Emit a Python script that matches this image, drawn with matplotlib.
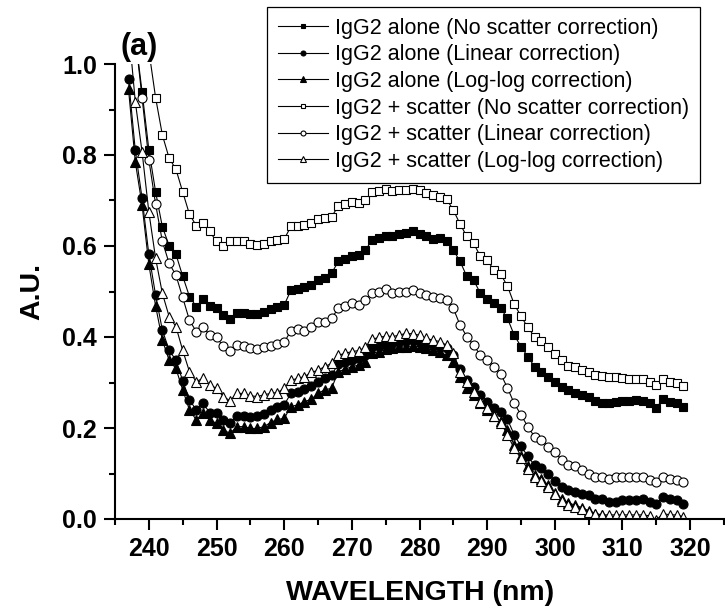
import numpy as np
import matplotlib
matplotlib.use("Agg")
import matplotlib.pyplot as plt

plt.rcParams['font.family'] = ['Liberation Sans', 'DejaVu Sans']

# wavelength (nm), one reading per nm
wavelength = np.arange(237, 320)

alone_none = [1.20, 1.06, 0.939, 0.812, 0.719, 0.642, 0.601, 0.582, 0.534, 0.489,
              0.467, 0.483, 0.468, 0.463, 0.448, 0.439, 0.452, 0.453, 0.451, 0.451,
              0.456, 0.461, 0.467, 0.470, 0.503, 0.505, 0.509, 0.514, 0.525, 0.529,
              0.540, 0.566, 0.571, 0.577, 0.580, 0.591, 0.613, 0.617, 0.621, 0.622,
              0.626, 0.629, 0.632, 0.626, 0.621, 0.615, 0.617, 0.610, 0.591, 0.566,
              0.533, 0.525, 0.496, 0.483, 0.474, 0.463, 0.441, 0.404, 0.379, 0.357,
              0.335, 0.324, 0.313, 0.302, 0.290, 0.284, 0.278, 0.273, 0.269, 0.260,
              0.254, 0.254, 0.258, 0.260, 0.260, 0.262, 0.260, 0.256, 0.245, 0.263,
              0.258, 0.254, 0.247]

alone_linear = [0.966, 0.810, 0.705, 0.582, 0.492, 0.415, 0.371, 0.349, 0.304, 0.262,
                0.240, 0.254, 0.234, 0.232, 0.218, 0.210, 0.226, 0.226, 0.225, 0.226,
                0.231, 0.240, 0.247, 0.251, 0.276, 0.280, 0.285, 0.292, 0.302, 0.309,
                0.316, 0.341, 0.346, 0.349, 0.353, 0.360, 0.377, 0.381, 0.385, 0.386,
                0.390, 0.392, 0.393, 0.390, 0.386, 0.382, 0.379, 0.375, 0.360, 0.330,
                0.305, 0.290, 0.272, 0.258, 0.245, 0.236, 0.219, 0.185, 0.160, 0.138,
                0.118, 0.111, 0.100, 0.084, 0.071, 0.064, 0.060, 0.056, 0.053, 0.045,
                0.045, 0.038, 0.038, 0.042, 0.042, 0.042, 0.045, 0.038, 0.033, 0.049,
                0.045, 0.042, 0.033]

alone_loglog = [0.944, 0.785, 0.690, 0.560, 0.468, 0.393, 0.349, 0.331, 0.284, 0.240,
                0.218, 0.232, 0.218, 0.210, 0.196, 0.188, 0.203, 0.203, 0.199, 0.199,
                0.203, 0.212, 0.219, 0.221, 0.247, 0.251, 0.258, 0.263, 0.276, 0.284,
                0.287, 0.324, 0.329, 0.335, 0.338, 0.346, 0.364, 0.368, 0.373, 0.375,
                0.377, 0.379, 0.380, 0.379, 0.375, 0.371, 0.366, 0.360, 0.346, 0.312,
                0.288, 0.272, 0.254, 0.240, 0.226, 0.215, 0.196, 0.162, 0.138, 0.117,
                0.097, 0.088, 0.075, 0.058, 0.044, 0.036, 0.030, 0.025, 0.018, 0.012,
                0.008, 0.005, 0.004, 0.004, 0.004, 0.004, 0.004, 0.002, -0.005, 0.007,
                0.004, 0.003, -0.002]

scatter_none = [1.45, 1.30, 1.15, 1.03, 0.926, 0.844, 0.793, 0.769, 0.719, 0.670,
                0.645, 0.650, 0.632, 0.610, 0.599, 0.610, 0.611, 0.610, 0.604, 0.602,
                0.604, 0.610, 0.613, 0.615, 0.643, 0.643, 0.646, 0.651, 0.659, 0.661,
                0.664, 0.688, 0.692, 0.697, 0.694, 0.701, 0.719, 0.721, 0.725, 0.721,
                0.723, 0.723, 0.725, 0.722, 0.716, 0.712, 0.708, 0.703, 0.679, 0.648,
                0.621, 0.606, 0.577, 0.569, 0.547, 0.538, 0.512, 0.472, 0.446, 0.421,
                0.401, 0.392, 0.379, 0.363, 0.349, 0.337, 0.335, 0.327, 0.324, 0.316,
                0.314, 0.313, 0.312, 0.309, 0.307, 0.307, 0.307, 0.302, 0.295, 0.307,
                0.302, 0.300, 0.292]

scatter_linear = [1.22, 1.06, 0.926, 0.790, 0.692, 0.610, 0.562, 0.536, 0.487, 0.437,
                  0.412, 0.423, 0.404, 0.399, 0.380, 0.370, 0.382, 0.381, 0.375, 0.374,
                  0.377, 0.380, 0.385, 0.388, 0.414, 0.417, 0.414, 0.423, 0.432, 0.434,
                  0.441, 0.463, 0.468, 0.474, 0.470, 0.481, 0.496, 0.500, 0.505, 0.497,
                  0.498, 0.500, 0.503, 0.496, 0.492, 0.487, 0.485, 0.481, 0.463, 0.426,
                  0.401, 0.382, 0.360, 0.349, 0.335, 0.319, 0.288, 0.254, 0.229, 0.203,
                  0.181, 0.174, 0.159, 0.148, 0.130, 0.119, 0.116, 0.108, 0.100, 0.093,
                  0.093, 0.089, 0.093, 0.093, 0.093, 0.093, 0.093, 0.086, 0.082, 0.093,
                  0.089, 0.086, 0.082]

scatter_loglog = [1.08, 0.917, 0.807, 0.675, 0.573, 0.496, 0.445, 0.423, 0.371, 0.324,
                  0.302, 0.309, 0.295, 0.287, 0.269, 0.260, 0.276, 0.276, 0.271, 0.269,
                  0.273, 0.276, 0.278, 0.287, 0.305, 0.309, 0.313, 0.322, 0.327, 0.335,
                  0.342, 0.360, 0.364, 0.368, 0.370, 0.377, 0.395, 0.399, 0.402, 0.401,
                  0.404, 0.408, 0.407, 0.404, 0.397, 0.393, 0.390, 0.382, 0.364, 0.324,
                  0.302, 0.280, 0.258, 0.245, 0.226, 0.212, 0.185, 0.155, 0.133, 0.110,
                  0.092, 0.084, 0.071, 0.056, 0.040, 0.031, 0.027, 0.023, 0.016, 0.012,
                  0.009, 0.009, 0.009, 0.009, 0.009, 0.009, 0.009, 0.007, -0.002, 0.012,
                  0.009, 0.009, 0.005]

labels = ['IgG2 alone (No scatter correction)',
          'IgG2 alone (Linear correction)',
          'IgG2 alone (Log-log correction)',
          'IgG2 + scatter (No scatter correction)',
          'IgG2 + scatter (Linear correction)',
          'IgG2 + scatter (Log-log correction)']

fig = plt.figure(figsize=(7.25, 6.1), dpi=100)
ax = fig.add_axes([115/725, 91/610, 609/725, 455/610])

series = [alone_none, alone_linear, alone_loglog,
          scatter_none, scatter_linear, scatter_loglog]
markers = ['s', 'o', '^', 's', 'o', '^']
sizes = [6.0, 6.5, 7.2, 6.0, 6.5, 7.2]
fills = ['black', 'black', 'black', 'white', 'white', 'white']

for y, m, ms, fc, lab in zip(series, markers, sizes, fills, labels):
    ax.plot(wavelength, y, color='black', lw=0.8, marker=m, ms=ms,
            mfc=fc, mec='black', mew=0.8, label=lab)

ax.set_xlim(235, 325)
ax.set_ylim(0, 1.0)
ax.set_xticks(np.arange(240, 321, 10))
ax.set_xticks(np.arange(235, 326, 5), minor=True)
ax.set_yticks(np.arange(0, 1.01, 0.2))
ax.set_yticks(np.arange(0, 1.01, 0.1), minor=True)
ax.set_yticklabels(['0.0', '0.2', '0.4', '0.6', '0.8', '1.0'])

for side in ['top', 'right']:
    ax.spines[side].set_visible(False)
for side in ['left', 'bottom']:
    ax.spines[side].set_linewidth(1.5)
ax.tick_params(which='major', direction='out', length=8, width=1.5,
               labelsize=18, pad=5)
ax.tick_params(which='minor', direction='out', length=4, width=1.5)
for t in ax.get_xticklabels() + ax.get_yticklabels():
    t.set_fontweight('bold')

fig.text(420/725, 10/610, 'WAVELENGTH (nm)', fontsize=20.5, fontweight='bold',
         ha='center', va='baseline')
fig.text(32/725, 1 - 291/610, 'A.U.', fontsize=20.5, fontweight='bold',
         rotation=90, ha='center', va='center')
fig.text(120/725, 1 - 55/610, '(a)', fontsize=22, fontweight='bold',
         ha='left', va='baseline')

leg = ax.legend(loc='upper right', bbox_to_anchor=(700/725, 603/610),
                bbox_transform=fig.transFigure, borderaxespad=0,
                fontsize=15.5, markerscale=0.55, handlelength=2.3,
                handletextpad=0.35, labelspacing=0.26, borderpad=0.5,
                fancybox=False, framealpha=1)
leg.get_frame().set_edgecolor('black')
leg.get_frame().set_linewidth(0.9)

fig.savefig('out.png', dpi=100)
